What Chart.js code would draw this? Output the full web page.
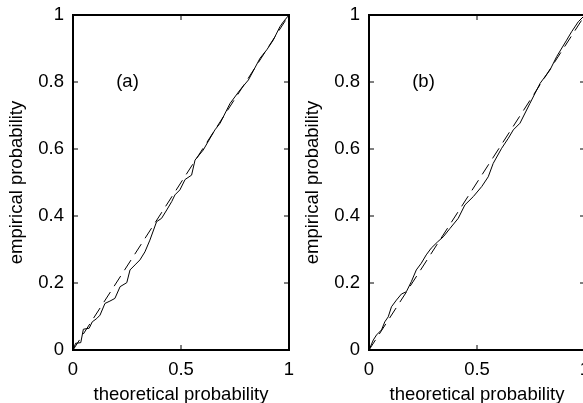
<!DOCTYPE html>
<html>
<head>
<meta charset="utf-8">
<script src="https://cdn.jsdelivr.net/npm/chart.js@4"></script>
<style>
    html, body { margin: 0; padding: 0; background: #fff; overflow: hidden; }
    body { width: 583px; height: 403px; position: relative; }
    .panel { position: absolute; top: 0; width: 296px; height: 403px; }
</style>
</head>
<body>
<div class="panel" style="left:0"><canvas id="panelA"></canvas></div>
<div class="panel" style="left:296px"><canvas id="panelB"></canvas></div>
<script>
// Panel (a): empirical vs theoretical probability
const xA = [0, 0.012, 0.036, 0.048, 0.075, 0.089, 0.110, 0.125, 0.148, 0.171, 0.194, 0.218, 0.249, 0.264, 0.287, 0.310,
    0.333, 0.356, 0.387, 0.410, 0.434, 0.457, 0.472, 0.495, 0.519, 0.549, 0.565, 0.603, 0.657, 0.681, 0.727, 0.773,
    0.812, 0.866, 0.897, 0.927, 0.958, 0.974, 1];
const yA = [0, 0.020, 0.022, 0.062, 0.065, 0.084, 0.094, 0.104, 0.139, 0.146, 0.154, 0.189, 0.201, 0.239, 0.254, 0.269,
    0.293, 0.328, 0.383, 0.393, 0.418, 0.443, 0.463, 0.478, 0.509, 0.522, 0.567, 0.597, 0.657, 0.677, 0.736, 0.776,
    0.806, 0.871, 0.896, 0.925, 0.965, 0.980, 1];

// Panel (b)
const xB = [0, 0.020, 0.035, 0.058, 0.073, 0.089, 0.104, 0.127, 0.150, 0.173, 0.196, 0.219, 0.242, 0.265, 0.288, 0.318,
    0.344, 0.375, 0.413, 0.444, 0.483, 0.522, 0.552, 0.575, 0.614, 0.645, 0.668, 0.699, 0.745, 0.792, 0.838, 0.869,
    0.915, 0.938, 0.969, 1];
const yB = [0, 0.030, 0.045, 0.060, 0.084, 0.099, 0.129, 0.149, 0.167, 0.174, 0.204, 0.239, 0.259, 0.284, 0.304, 0.323,
    0.338, 0.363, 0.393, 0.433, 0.458, 0.488, 0.517, 0.557, 0.602, 0.632, 0.657, 0.677, 0.736, 0.796, 0.836, 0.876,
    0.925, 0.950, 0.980, 1];

// reference line (theoretical = empirical)
const refX = [0, 1];
const refY = [0, 1];

const xTicks = [0, 0.5, 1];
const xTickLabels = ['0', '0.5', '1'];
const yTicks = [0, 0.2, 0.4, 0.6, 0.8, 1];
const yTickLabels = ['0', '0.2', '0.4', '0.6', '0.8', '1'];

const FONT = { family: "'Liberation Sans', Arial, sans-serif", size: 18.5 };

const toPoints = (xs, ys) => xs.map((x, i) => ({ x: x, y: ys[i] }));

// MATLAB-like box with inward ticks and the panel letter
const framePlugin = {
    id: 'frame',
    afterDraw(chart) {
        const { ctx, chartArea: a, scales } = chart;
        const tick = 5;
        ctx.save();
        ctx.strokeStyle = '#000';
        ctx.lineWidth = 2;
        ctx.strokeRect(a.left, a.top, a.right - a.left, a.bottom - a.top);
        ctx.lineWidth = 1;
        ctx.beginPath();
        yTicks.forEach(v => {
            const py = scales.y.getPixelForValue(v);
            ctx.moveTo(a.left, py); ctx.lineTo(a.left + tick, py);
            ctx.moveTo(a.right, py); ctx.lineTo(a.right - tick, py);
        });
        xTicks.forEach(v => {
            const px = scales.x.getPixelForValue(v);
            ctx.moveTo(px, a.bottom); ctx.lineTo(px, a.bottom - tick);
            ctx.moveTo(px, a.top); ctx.lineTo(px, a.top + tick);
        });
        ctx.stroke();
        const lab = chart.options.plugins.frame.label;
        ctx.fillStyle = '#000';
        ctx.font = `${FONT.size}px ${FONT.family}`;
        ctx.textAlign = 'left';
        ctx.textBaseline = 'middle';
        ctx.fillText(lab, scales.x.getPixelForValue(0.2), scales.y.getPixelForValue(0.8));
        ctx.restore();
    }
};

function makePanel(id, xs, ys, label) {
    const ctx = document.getElementById(id).getContext('2d');
    return new Chart(ctx, {
        type: 'scatter',
        data: {
            datasets: [
                {
                    data: toPoints(refX, refY),
                    showLine: true,
                    borderColor: '#000',
                    borderWidth: 1,
                    borderDash: [12, 7],
                    pointRadius: 0
                },
                {
                    data: toPoints(xs, ys),
                    showLine: true,
                    borderColor: '#000',
                    borderWidth: 1,
                    pointRadius: 0
                }
            ]
        },
        options: {
            responsive: true,
            maintainAspectRatio: false,
            animation: false,
            layout: { padding: { left: 0, right: 7, top: 15, bottom: 0 } },
            plugins: {
                legend: { display: false },
                tooltip: { enabled: false },
                frame: { label: label }
            },
            scales: {
                x: {
                    type: 'linear',
                    min: 0,
                    max: 1,
                    afterBuildTicks: s => { s.ticks = xTicks.map(v => ({ value: v })); },
                    afterFit: s => {
                        s.height = 53;
                        s.paddingLeft = 0;
                        s.paddingRight = 0;
                    },
                    grid: { display: false, drawTicks: false },
                    border: { display: false },
                    ticks: {
                        padding: 9,
                        color: '#000',
                        font: FONT,
                        maxRotation: 0,
                        autoSkip: false,
                        callback: (v, i) => xTickLabels[i]
                    },
                    title: {
                        display: true,
                        text: 'theoretical probability',
                        color: '#000',
                        font: FONT,
                        padding: { top: 0, bottom: -3 }
                    }
                },
                y: {
                    type: 'linear',
                    min: 0,
                    max: 1,
                    afterBuildTicks: s => { s.ticks = yTicks.map(v => ({ value: v })); },
                    afterFit: s => {
                        s.width = 73;
                        s.paddingTop = 0;
                        s.paddingBottom = 0;
                    },
                    grid: { display: false, drawTicks: false },
                    border: { display: false },
                    ticks: {
                        padding: 9,
                        color: '#000',
                        font: FONT,
                        autoSkip: false,
                        callback: (v, i) => yTickLabels[i]
                    },
                    title: {
                        display: true,
                        text: 'empirical probability',
                        color: '#000',
                        font: FONT,
                        padding: { top: 6, bottom: 0 }
                    }
                }
            }
        },
        plugins: [framePlugin]
    });
}

makePanel('panelA', xA, yA, '(a)');
makePanel('panelB', xB, yB, '(b)');
</script>
</body>
</html>
